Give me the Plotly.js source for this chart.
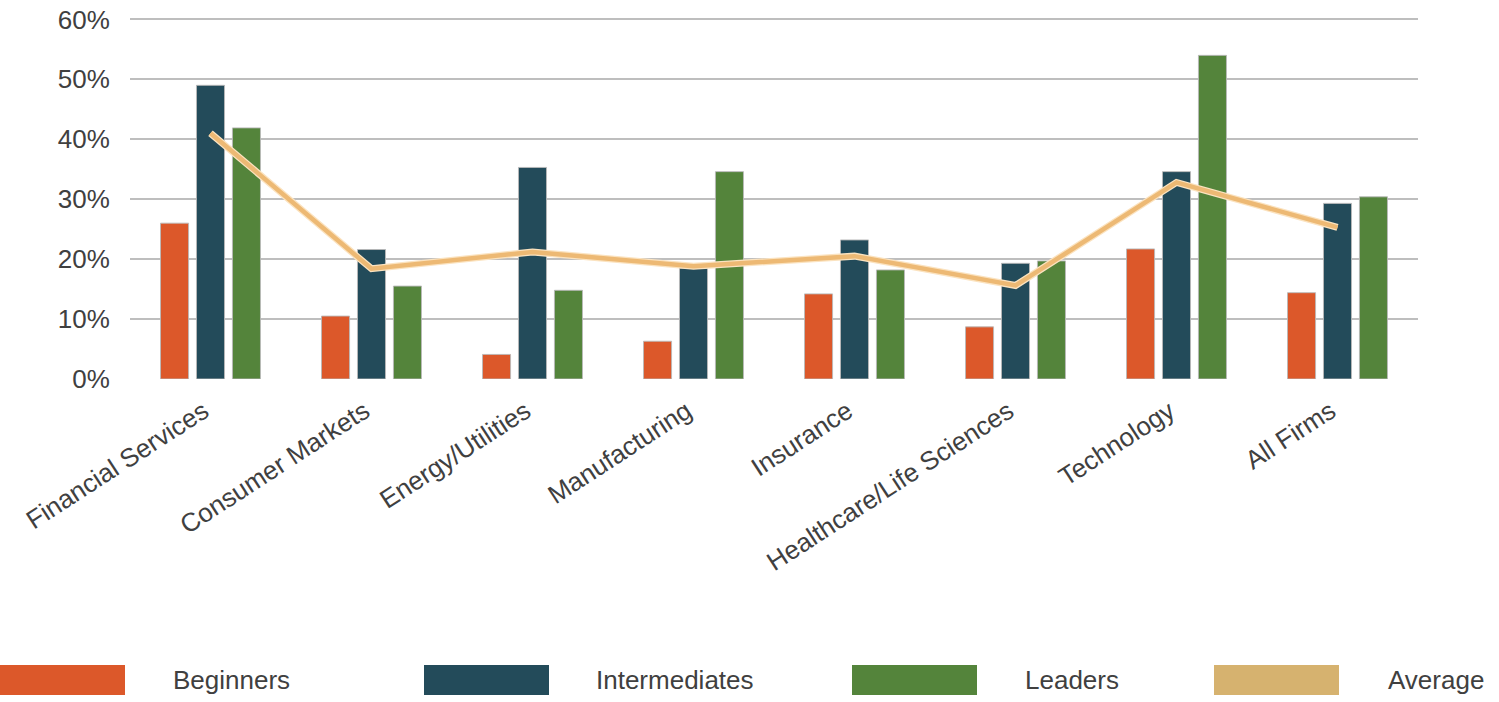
<!DOCTYPE html>
<html>
<head>
<meta charset="utf-8">
<script src="https://cdn.plot.ly/plotly-3.0.1.min.js"></script>
<style>
html,body{margin:0;padding:0;background:#fff;}
#chart{width:1499px;height:702px;}
</style>
</head>
<body>
<div id="chart"></div>
<script>
const categories = ["Financial Services","Consumer Markets","Energy/Utilities","Manufacturing","Insurance","Healthcare/Life Sciences","Technology","All Firms"];
const beginners = [0.26,0.105,0.041,0.063,0.142,0.087,0.217,0.144];
const intermediates = [0.49,0.216,0.353,0.185,0.232,0.193,0.346,0.293];
const leaders = [0.419,0.155,0.148,0.346,0.182,0.197,0.54,0.304];
const average = [0.41,0.184,0.212,0.188,0.205,0.156,0.328,0.253];
const yTickVals = [0,0.1,0.2,0.3,0.4,0.5,0.6];
const yTickText = ["0%","10%","20%","30%","40%","50%","60%"];
const legendNames = ["Beginners","Intermediates","Leaders","Average"];
const colors = ["#DC582A","#234B5A","#54843B","#D6B26F"];
const lineColor = "#EDB974";

const FONT = "Liberation Sans, Arial, Helvetica, sans-serif";
const outline = {color:"rgba(185,185,185,0.9)", width:1};

const traces = [
  {type:"bar", name:legendNames[0], x:categories, y:beginners, marker:{color:colors[0], line:outline}, hoverinfo:"y"},
  {type:"bar", name:legendNames[1], x:categories, y:intermediates, marker:{color:colors[1], line:outline}, hoverinfo:"y"},
  {type:"bar", name:legendNames[2], x:categories, y:leaders, marker:{color:colors[2], line:outline}, hoverinfo:"y"},
  {type:"scatter", mode:"lines", name:legendNames[3], x:categories, y:average, line:{color:"#FBE3C0", width:7}, hoverinfo:"skip"},
  {type:"scatter", mode:"lines", name:legendNames[3], x:categories, y:average, line:{color:lineColor, width:4.5}, hoverinfo:"y"}
];

// custom legend (wide swatches) in paper coords
const W = 1499, H = 702, mL = 130, mR = 81, mT = 17, mB = 323;
const pw = W - mL - mR, ph = H - mT - mB;
const px = v => (v - mL) / pw;
const py = v => (H - mB - v) / ph;
const swX = [0, 424, 852, 1214];
const txtX = [171, 594, 1023, 1386];
const shapes = [], annotations = [];
for (let i = 0; i < 4; i++) {
  shapes.push({type:"rect", xref:"paper", yref:"paper", x0:px(swX[i]), x1:px(swX[i]+125), y0:py(695), y1:py(665), fillcolor:colors[i], line:{width:0}});
  annotations.push({xref:"paper", yref:"paper", x:px(txtX[i]), y:py(680), xanchor:"left", yanchor:"middle", text:legendNames[i], showarrow:false, font:{family:FONT, size:26, color:"#404040"}});
}

const layout = {
  width: W, height: H,
  margin:{l:mL, r:mR, t:mT, b:mB, pad:0},
  paper_bgcolor:"#fff", plot_bgcolor:"#fff",
  showlegend:false,
  barmode:"group", bargap:0.33, bargroupgap:0.22,
  font:{family:FONT, color:"#404040"},
  xaxis:{type:"category", tickangle:-33, tickfont:{family:FONT, size:26, color:"#404040"}, showgrid:false, zeroline:false, showline:false, ticks:"outside", ticklen:6, tickcolor:"rgba(0,0,0,0)", ticklabelshift:-7, automargin:false},
  yaxis:{range:[0,0.604], tickvals:yTickVals, ticktext:yTickText, tickfont:{family:FONT, size:26, color:"#404040"}, showgrid:true, gridcolor:"#BEBEBE", gridwidth:2, zeroline:false, showline:false, ticks:"outside", ticklen:14, tickcolor:"rgba(0,0,0,0)", automargin:false},
  shapes: shapes,
  annotations: annotations
};

Plotly.newPlot("chart", traces, layout, {displayModeBar:false, staticPlot:true});
</script>
</body>
</html>
